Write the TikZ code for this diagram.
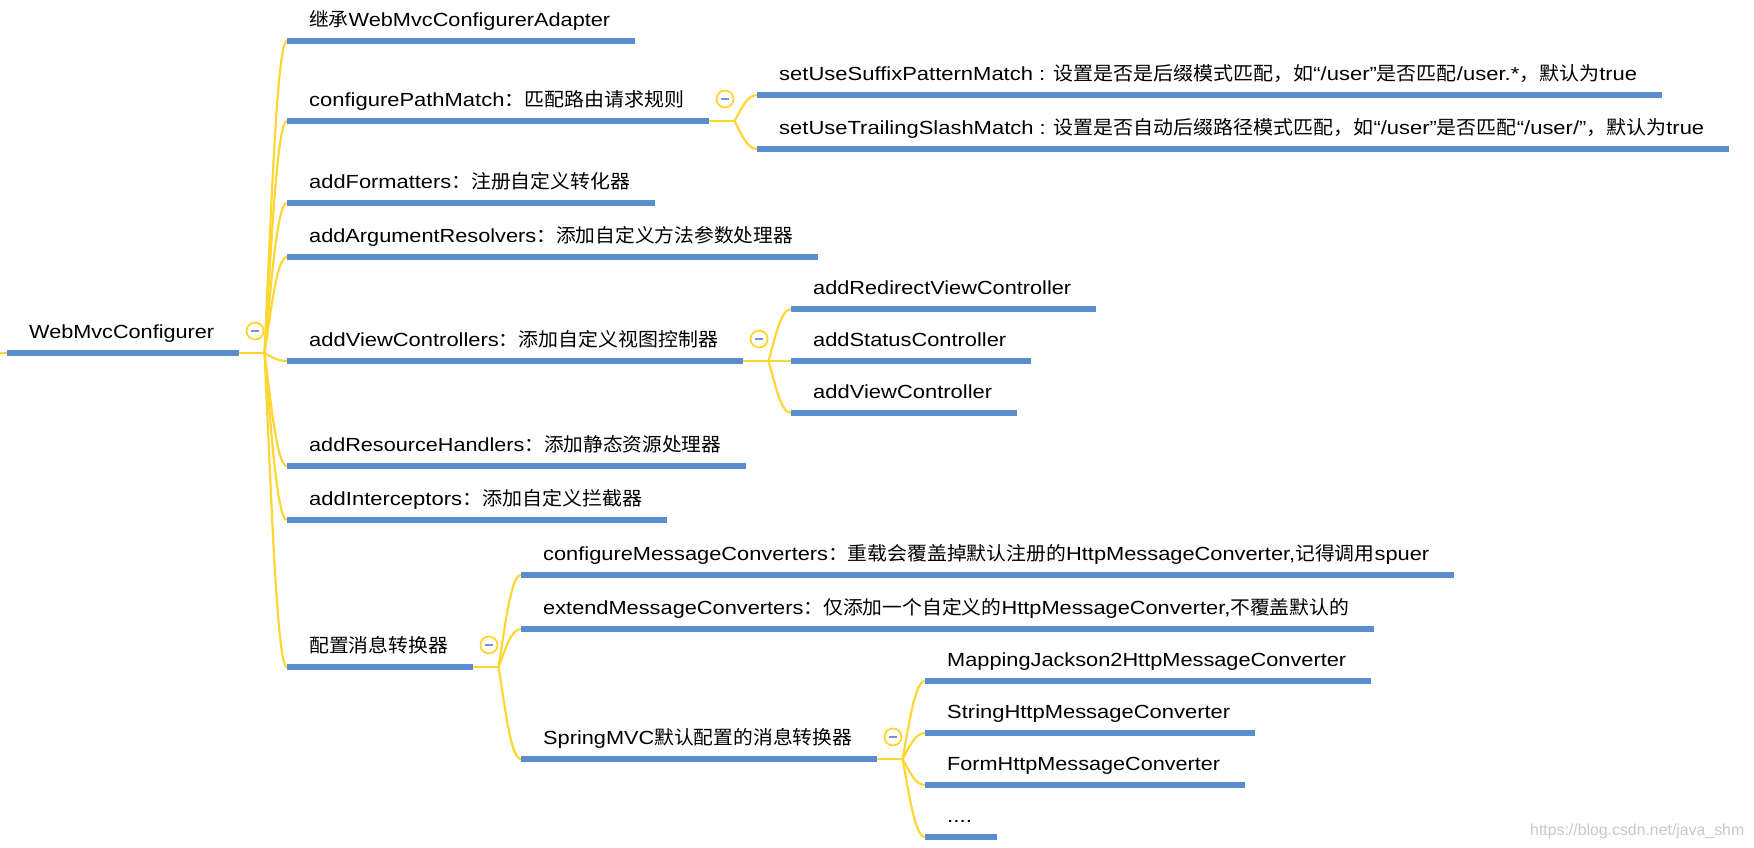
\documentclass[tikz,border=0pt]{standalone}
\usepackage{fontspec}
\usepackage{graphicx}
\setmainfont{Liberation Sans}[FakeStretch=1.1]
\newfontfamily\cjk{Noto Sans CJK SC}
\usetikzlibrary{calc}
\definecolor{ubar}{RGB}{89,141,208}
\definecolor{yline}{RGB}{255,214,51}
\definecolor{minusc}{RGB}{130,148,196}
\definecolor{wmark}{RGB}{200,200,200}
\pgfdeclarelayer{bg}
\pgfsetlayers{bg,main}
\newsavebox\fitbox
\newcommand\fitw[2]{\sbox\fitbox{#2}\pgfmathsetmacro\fitratio{(#1)/\wd\fitbox}\scalebox{\fitratio}[1]{\usebox\fitbox}}
\newcommand\topic[5]{%
  \coordinate (#1-s) at (#2,#4);
  \coordinate (#1-e) at (#3,#4);
  \draw[uline] (#1-s) -- (#1-e);
  \node[txt,anchor=base west] (#1) at ({#2+22},{#4-14.5}) {\fitw{#3-#2-47}{#5}};
}
\newcommand\fold[1]{%
  \coordinate (#1-j) at ($(#1-e)+(25.5,0)$);
  \begin{pgfonlayer}{bg}\draw[yl] (#1-e) -- (#1-j);\end{pgfonlayer}
  \node[foldc] (#1-f) at ($(#1-e)+(16,-22)$) {\textcolor{minusc}{\rule{8pt}{2pt}}};
}
\newcommand\branch[2]{%
  \begin{pgfonlayer}{bg}
  \draw[yl] let \p1=(#1-j), \p2=(#2-s) in (\p1) .. controls ({\x1+0.3*(\x2-\x1)},{\y1+0.45*(\y2-\y1)}) and ({\x1+0.55*(\x2-\x1)},\y2) .. (\p2);
  \end{pgfonlayer}
}
\begin{document}
\begin{tikzpicture}[x=1pt,y=-1pt,
  uline/.style={draw=ubar,line width=5.5pt},
  yl/.style={draw=yline,line width=2.2pt},
  txt/.style={font=\fontsize{19}{22}\selectfont,inner sep=0pt,text=black},
  foldc/.style={circle,draw=yline,line width=1.8pt,fill=white,minimum size=17pt,inner sep=0pt}]
\useasboundingbox (0,0) rectangle (1754,848);
% root
\topic{r}{7}{239}{353}{WebMvcConfigurer}
\coordinate (stub) at (0,353);
\begin{pgfonlayer}{bg}\draw[yl] (stub) -- (r-s);\end{pgfonlayer}
% level 1
\topic{a1}{287}{635}{41}{{\cjk 继承}WebMvcConfigurerAdapter}
\topic{a2}{287}{709}{121}{configurePathMatch{\cjk ：匹配路由请求规则}}
\topic{a3}{287}{655}{203}{addFormatters{\cjk ：注册自定义转化器}}
\topic{a4}{287}{818}{257}{addArgumentResolvers{\cjk ：添加自定义方法参数处理器}}
\topic{a5}{287}{743}{361}{addViewControllers{\cjk ：添加自定义视图控制器}}
\topic{a6}{287}{746}{466}{addResourceHandlers{\cjk ：添加静态资源处理器}}
\topic{a7}{287}{667}{520}{addInterceptors{\cjk ：添加自定义拦截器}}
\topic{a8}{287}{473}{667}{{\cjk 配置消息转换器}}
% level 2
\topic{b1}{757}{1662}{95}{setUseSuffixPatternMatch : {\cjk 设置是否是后缀模式匹配，如}“/user”{\cjk 是否匹配}/user.*{\cjk ，默认为}true}
\topic{b2}{757}{1729}{149}{setUseTrailingSlashMatch : {\cjk 设置是否自动后缀路径模式匹配，如}“/user”{\cjk 是否匹配}“/user/”{\cjk ，默认为}true}
\topic{c1}{791}{1096}{309}{addRedirectViewController}
\topic{c2}{791}{1031}{361}{addStatusController}
\topic{c3}{791}{1017}{413}{addViewController}
\topic{d1}{521}{1454}{575}{configureMessageConverters{\cjk ：重载会覆盖掉默认注册的}HttpMessageConverter,{\cjk 记得调用}spuer}
\topic{d2}{521}{1374}{629}{extendMessageConverters{\cjk ：仅添加一个自定义的}HttpMessageConverter,{\cjk 不覆盖默认的}}
\topic{d3}{521}{877}{759}{SpringMVC{\cjk 默认配置的消息转换器}}
% level 3
\topic{e1}{925}{1371}{681}{MappingJackson2HttpMessageConverter}
\topic{e2}{925}{1255}{733}{StringHttpMessageConverter}
\topic{e3}{925}{1245}{785}{FormHttpMessageConverter}
\topic{e4}{925}{997}{837}{....}
% folds and junctions
\fold{r}\fold{a2}\fold{a5}\fold{a8}\fold{d3}
% branches
\foreach \c in {a1,a2,a3,a4,a5,a6,a7,a8} {\branch{r}{\c}}
\foreach \c in {b1,b2} {\branch{a2}{\c}}
\foreach \c in {c1,c2,c3} {\branch{a5}{\c}}
\foreach \c in {d1,d2,d3} {\branch{a8}{\c}}
\foreach \c in {e1,e2,e3,e4} {\branch{d3}{\c}}
% watermark
\node[anchor=base west,inner sep=0pt,text=wmark,font=\fontsize{16}{18}\selectfont] (wmk) at (1530,835) {\fitw{214}{https://blog.csdn.net/java\_shm}};
\end{tikzpicture}
\end{document}
